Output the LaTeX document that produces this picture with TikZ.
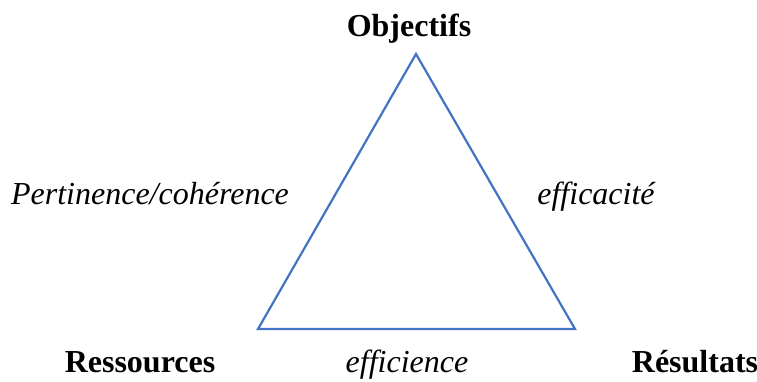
\documentclass[tikz,border=0pt]{standalone}
\usepackage{fontspec}
\setmainfont{Liberation Serif}
\definecolor{triblue}{HTML}{4472C4}
\begin{document}
\begin{tikzpicture}[x=1pt,y=-1pt,
  lbl/.style={anchor=base,inner sep=0pt,font=\fontsize{32}{38}\selectfont\bfseries},
  side/.style={anchor=base,inner sep=0pt,font=\fontsize{32}{38}\selectfont\itshape}]
\useasboundingbox (0,0) rectangle (757,381);
\coordinate (top) at (416,54);
\coordinate (bl) at (258,329);
\coordinate (br) at (575,329);
\draw[triblue,line width=2.2pt,line join=miter] (top) -- (br) -- (bl) -- cycle;
\node[lbl] (obj) at (409,36) {Objectifs};
\node[lbl] (res) at (140,372) {Ressources};
\node[lbl] (resu) at (695,372) {Résultats};
\node[side] (pert) at (150,204) {Pertinence/cohérence};
\node[side] (effa) at (596,204) {efficacité};
\node[side] (effi) at (407,372) {efficience};
\end{tikzpicture}
\end{document}
